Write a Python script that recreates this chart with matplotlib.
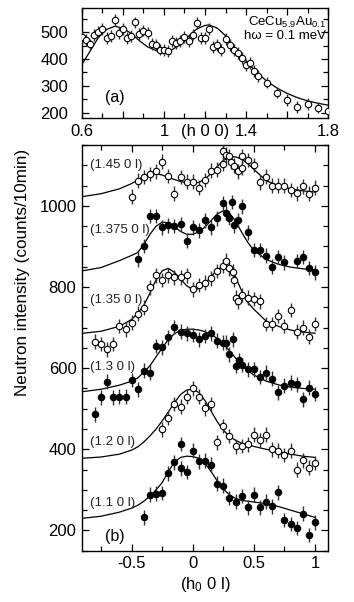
import numpy as np
import matplotlib
matplotlib.use('Agg')
import matplotlib.pyplot as plt
from matplotlib.ticker import MultipleLocator

plt.rcParams['font.family'] = ['Liberation Sans', 'DejaVu Sans']
plt.rcParams['mathtext.fontset'] = 'custom'
plt.rcParams['mathtext.rm'] = 'Liberation Sans'
plt.rcParams['mathtext.it'] = 'Liberation Sans:italic'
plt.rcParams['mathtext.default'] = 'regular'

# ---- panel (a): scan along (h 0 0) ----
h_a = [0.60, 0.62, 0.64, 0.66, 0.68, 0.70, 0.72, 0.74, 0.76, 0.78, 0.80, 0.82,
       0.84, 0.86, 0.88, 0.90, 0.92, 0.94, 0.96, 0.98, 1.00, 1.02, 1.04, 1.06,
       1.08, 1.10, 1.12, 1.14, 1.16, 1.18, 1.20, 1.22, 1.24, 1.26, 1.28, 1.30,
       1.32, 1.34, 1.36, 1.38, 1.40, 1.42, 1.44, 1.46, 1.50, 1.55, 1.60, 1.65,
       1.70, 1.75, 1.80]
cnt_a = [481, 471, 454, 490, 502, 512, 479, 487, 544, 497, 512, 479,
         487, 536, 494, 506, 497, 456, 451, 435, 434, 431, 466, 459,
         466, 481, 466, 491, 534, 479, 479, 512, 444, 452, 434, 475,
         452, 434, 421, 404, 379, 385, 356, 337, 312, 275, 247, 221,
         231, 219, 206]
err_a = 22

fit_h_a = [0.60, 0.64, 0.68, 0.72, 0.76, 0.80, 0.84, 0.88, 0.92, 0.96, 1.00, 1.04,
           1.08, 1.12, 1.16, 1.20, 1.22, 1.26, 1.30, 1.34, 1.38, 1.42, 1.46, 1.50,
           1.55, 1.60, 1.65, 1.70, 1.75, 1.80]
fit_a = [380, 430, 480, 510, 522, 515, 495, 468, 445, 432, 428, 435,
         455, 485, 512, 525, 527, 515, 487, 448, 410, 375, 345, 318,
         292, 272, 256, 244, 235, 228]

# ---- panel (b): scans along (h0 0 l) ----
labels_b = ['(1.45 0 l)', '(1.375 0 l)', '(1.35 0 l)', '(1.3 0 l)', '(1.2 0 l)', '(1.1 0 l)']
label_y_b = [1100, 940, 768, 603, 417, 267]
filled_b = [False, True, False, True, False, True]

l_145 = [-0.50, -0.45, -0.40, -0.35, -0.30, -0.25, -0.20, -0.15, -0.10, -0.05, 0.00, 0.05,
         0.10, 0.15, 0.20, 0.25, 0.25, 0.27, 0.30, 0.31, 0.34, 0.37, 0.40, 0.40,
         0.45, 0.50, 0.55, 0.60, 0.65, 0.70, 0.75, 0.80, 0.85, 0.90, 0.95, 1.00]
c_145 = [1023, 1062, 1071, 1079, 1085, 1109, 1074, 1030, 1071, 1060, 1060, 1045,
         1064, 1087, 1089, 1103, 1136, 1126, 1122, 1109, 1099, 1085, 1093, 1122,
         1113, 1101, 1058, 1072, 1050, 1050, 1050, 1039, 1031, 1048, 1030, 1045]

l_1375 = [-0.45, -0.40, -0.35, -0.30, -0.25, -0.20, -0.15, -0.10, -0.05, 0.00, 0.05, 0.10,
          0.15, 0.20, 0.25, 0.27, 0.30, 0.32, 0.34, 0.37, 0.40, 0.45, 0.50, 0.55,
          0.60, 0.65, 0.70, 0.75, 0.85, 0.90, 0.95, 1.00]
c_1375 = [868, 901, 975, 975, 947, 952, 950, 955, 914, 947, 940, 964,
          947, 969, 1007, 983, 970, 1010, 952, 965, 999, 935, 891, 891,
          877, 850, 874, 861, 864, 874, 847, 836]

l_135 = [-0.80, -0.75, -0.70, -0.65, -0.60, -0.55, -0.50, -0.45, -0.40, -0.35, -0.30, -0.25,
         -0.20, -0.15, -0.10, -0.05, 0.00, 0.05, 0.10, 0.15, 0.20, 0.25, 0.27, 0.30,
         0.33, 0.34, 0.35, 0.37, 0.40, 0.45, 0.50, 0.55, 0.60, 0.65, 0.70, 0.75,
         0.80, 0.85, 0.90, 0.95, 1.00]
c_135 = [665, 660, 646, 660, 704, 696, 712, 734, 749, 799, 829, 817,
         829, 824, 824, 829, 794, 805, 811, 821, 839, 852, 865, 846,
         838, 817, 774, 765, 780, 774, 770, 765, 709, 709, 729, 704,
         743, 690, 700, 678, 709]

l_13 = [-0.80, -0.75, -0.70, -0.65, -0.60, -0.55, -0.50, -0.45, -0.40, -0.35, -0.30, -0.25,
        -0.20, -0.15, -0.10, -0.05, 0.00, 0.05, 0.10, 0.15, 0.20, 0.25, 0.27, 0.30,
        0.33, 0.35, 0.38, 0.40, 0.45, 0.50, 0.55, 0.60, 0.65, 0.70, 0.75, 0.80,
        0.85, 0.90, 0.95, 1.00]
c_13 = [486, 528, 567, 528, 530, 530, 571, 548, 594, 589, 655, 651,
        676, 701, 690, 686, 682, 671, 679, 686, 668, 663, 663, 634,
        671, 605, 620, 608, 597, 597, 578, 589, 574, 540, 557, 564,
        560, 523, 552, 536]

l_12 = [-0.25, -0.20, -0.15, -0.10, -0.05, 0.00, 0.05, 0.10, 0.15, 0.20, 0.25, 0.30,
        0.35, 0.40, 0.45, 0.50, 0.55, 0.60, 0.65, 0.70, 0.75, 0.80, 0.85, 0.90,
        0.95, 1.00]
c_12 = [449, 477, 512, 505, 530, 550, 530, 501, 512, 417, 457, 433,
        407, 408, 412, 436, 422, 436, 400, 397, 386, 397, 350, 373,
        355, 366]

l_11 = [-0.40, -0.35, -0.30, -0.25, -0.20, -0.15, -0.10, -0.10, -0.05, 0.00, 0.05, 0.10,
        0.15, 0.20, 0.25, 0.30, 0.35, 0.40, 0.45, 0.50, 0.55, 0.60, 0.65, 0.70,
        0.75, 0.80, 0.85, 0.90, 0.95, 1.00]
c_11 = [232, 288, 291, 292, 341, 368, 413, 353, 344, 397, 370, 372,
        362, 315, 310, 280, 271, 285, 257, 288, 257, 271, 259, 294,
        226, 216, 206, 241, 189, 220]
err_b = 18

fit_l = [-0.90, -0.75, -0.60, -0.50, -0.45, -0.40, -0.35, -0.30, -0.25, -0.20, -0.15, -0.10,
         -0.05, 0.00, 0.05, 0.10, 0.15, 0.20, 0.25, 0.30, 0.35, 0.40, 0.45, 0.50,
         0.60, 0.70, 0.80, 0.90, 1.00]
fit_145 = [1023, 1030, 1042, 1055, 1064, 1073, 1078, 1079, 1076, 1070, 1065, 1060,
           1057, 1056, 1058, 1066, 1080, 1097, 1112, 1120, 1121, 1115, 1104, 1090,
           1062, 1050, 1042, 1037, 1034]
fit_1375 = [840, 848, 865, 878, 885, 905, 930, 950, 960, 958, 948, 937,
            930, 930, 936, 948, 964, 980, 988, 982, 962, 935, 910, 890,
            868, 856, 849, 845, 842]
fit_135 = [686, 691, 703, 720, 735, 755, 785, 818, 840, 846, 836, 820,
           803, 794, 796, 808, 826, 842, 852, 848, 825, 790, 762, 745,
           716, 703, 694, 689, 686]
fit_13 = [542, 548, 558, 568, 576, 590, 606, 628, 650, 670, 685, 693,
          696, 696, 694, 690, 683, 673, 660, 643, 625, 608, 594, 583,
          568, 559, 553, 550, 548]
fit_12 = [378, 381, 388, 398, 406, 418, 433, 450, 470, 492, 515, 535,
          546, 548, 540, 520, 494, 468, 447, 432, 422, 415, 411, 407,
          400, 394, 388, 383, 380]
fit_11 = [230, 235, 245, 255, 262, 272, 285, 300, 318, 345, 368, 380,
          383, 382, 378, 365, 345, 322, 302, 288, 279, 274, 272, 270,
          266, 259, 250, 241, 232]

scans_l = [l_145, l_1375, l_135, l_13, l_12, l_11]
scans_c = [c_145, c_1375, c_135, c_13, c_12, c_11]
fits_b = [fit_145, fit_1375, fit_135, fit_13, fit_12, fit_11]

fig = plt.figure(figsize=(3.54, 6.02), dpi=100)
ax_a = fig.add_axes([0.2316, 0.804, 0.695, 0.1827])
ax_b = fig.add_axes([0.2316, 0.0852, 0.695, 0.6739])


def style_axis(ax, ypad):
    ax.tick_params(which='both', direction='in', top=True, right=True, labelsize=12,
                   width=0.9)
    ax.tick_params(axis='x', which='both', pad=4)
    ax.tick_params(axis='y', which='both', pad=ypad)
    ax.tick_params(which='major', length=5)
    ax.tick_params(which='minor', length=3.5)
    for sp in ax.spines.values():
        sp.set_linewidth(1.0)


def draw_points(ax, x, y, err, filled):
    ax.errorbar(x, y, yerr=err, fmt='o', ms=4.6, mew=0.8,
                mfc='black' if filled else 'white', mec='black',
                ecolor='#333333', elinewidth=1.0, capsize=0, zorder=3)


# panel (a)
ax_a.plot(fit_h_a, fit_a, color='black', lw=0.9, zorder=2)
draw_points(ax_a, h_a, cnt_a, err_a, False)
ax_a.set_xlim(0.6, 1.8)
ax_a.set_ylim(180, 590)
ax_a.set_xticks([0.6, 0.8, 1.0, 1.2, 1.4, 1.6, 1.8])
ax_a.set_xticklabels(['0.6', '', '1', '(h 0 0)', '1.4', '', '1.8'])
ax_a.xaxis.set_minor_locator(MultipleLocator(0.1))
ax_a.set_yticks([200, 300, 400, 500])
ax_a.yaxis.set_minor_locator(MultipleLocator(50))
style_axis(ax_a, 10)
ax_a.text(0.712, 255, '(a)', fontsize=11.5, ha='left', va='center')
ax_a.text(1.79, 536, r'CeCu$_{5.9}$Au$_{0.1}$', fontsize=9.5, ha='right', va='center')
ax_a.text(1.79, 486, 'hω = 0.1 meV', fontsize=9.5, ha='right', va='center')

# panel (b)
for x, y, fit, lab, ly, filled in zip(scans_l, scans_c, fits_b, labels_b, label_y_b, filled_b):
    ax_b.plot(fit_l, fit, color='black', lw=0.9, zorder=2)
    draw_points(ax_b, x, y, err_b, filled)
    ax_b.text(-0.84, ly, lab, fontsize=9.5, ha='left', va='center', color='#222222',
              zorder=4)

ax_b.set_xlim(-0.906, 1.106)
ax_b.set_ylim(150, 1150)
ax_b.set_xticks([-0.5, 0, 0.5, 1])
ax_b.set_xticklabels(['-0.5', '0', '0.5', '1'])
ax_b.xaxis.set_minor_locator(MultipleLocator(0.25))
ax_b.set_yticks([200, 400, 600, 800, 1000])
ax_b.yaxis.set_minor_locator(MultipleLocator(50))
style_axis(ax_b, 4)
ax_b.text(-0.72, 186, '(b)', fontsize=11.5, ha='left', va='center')
ax_b.set_xlabel(r'(h$_0$ 0 l)', fontsize=12, labelpad=3)

fig.text(23 / 354, 1 - 272 / 602, 'Neutron intensity (counts/10min)', rotation=90,
         fontsize=12.3, ha='center', va='center')

fig.savefig('out.png', dpi=100)
